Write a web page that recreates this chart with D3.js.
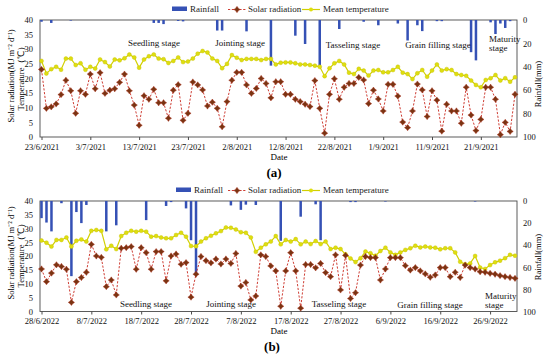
<!DOCTYPE html>
<html><head><meta charset="utf-8">
<script src="https://cdn.jsdelivr.net/npm/d3@7/dist/d3.min.js"></script>
<style>body{margin:0;background:#fff}svg{display:block}</style>
</head><body>
<svg id="c" width="550" height="357"></svg>
<script>
// ---------------- DATA ----------------
const startA = "23/6/2021";
const startB = "28/6/2022";

const solarA = [23.1,9.8,10.3,11.3,14.5,19.4,15.8,8.1,15.8,14.6,
  21.5,16.5,22,14.9,16,16.5,18.7,21.5,15.8,10.9,
  4,14.1,12.9,16.3,11.7,11.7,6.4,16,17.9,5.7,
  8.1,18.8,17.8,16.1,10.6,11.9,9.8,3.5,12.1,19.4,
  22.1,22.1,17.8,14.9,16.6,20,18.3,13.4,18.9,18.9,
  14.6,14.6,12.9,12.1,11.2,10.4,19.3,9.8,1.3,14.6,
  19.9,12.9,17,18.3,18.3,20.4,19.5,11.4,16,13,
  8.9,18,18,14,5.1,3.2,8.9,18.1,16.1,7,
  15.8,12.6,2,11.2,8.9,8.9,4.7,17,7.5,2.2,
  6,17,17,12.9,0.8,5,1.9,14.6];
const tempA = [26,21.7,23.2,24,23,26.8,26.8,24.6,25.2,23,
  24,23.4,26.5,25.6,24.1,26.5,26.2,26.9,28.2,27.2,
  23.7,26.5,27.6,28.2,26.8,26.6,25.3,26,27.2,25.6,
  25.8,26.8,28.5,29.4,28.9,26.8,26,23.5,25,28,
  27.1,26.3,26.7,26.7,26.7,26.3,26.7,26.7,24.8,25.4,
  25.5,25.5,25.2,24.8,24.8,24.6,24.4,24,20.8,23.5,
  25.2,26,24.8,22,21.5,23.3,22.7,21,22.7,22.9,
  22.1,22.1,22.9,24,22,21.5,19.8,21.8,22.9,20.6,
  22.7,24.8,22.7,23.2,22.9,21.5,21.2,20.9,19.3,17.8,
  17,19.5,20.1,21.2,19.3,20.1,18.9,20.4];
const rainA = [1.5,0,2.5,0,0,0,0.5,0,0,0,
  0,0,0,0,0,0,0,0,0,0,
  0,0,0,2.5,2.5,3.5,0,0,0.8,1.2,
  0,0,0,0,0,0,9,9,0,0,
  0,0,9.7,0,0,0,0,39,0,0,
  0,0,13.4,0,20.5,0,0,39,0,0,
  0,7.7,0,0,0,0,1.5,0,0,4.5,
  0,0,0,3,0,17.5,0,4.5,9.5,0,
  0,1,1,0,0,0,0,0,27.5,34.5,
  0,0,2,12,3,6.8,1,0];

const solarB = [15.4,10.8,13.9,16.9,16.3,15.3,3.3,10.8,12.3,14.2,
  24.3,20.1,19.6,9,11.4,6,22.9,23.1,23.5,15.3,
  23.1,21.3,15.3,21.7,21.7,11.1,20.1,20.8,17.1,17.7,
  5.2,13.5,19.9,18.4,17.6,19,17.2,19,17.4,21,
  9.2,10.5,4.2,5.6,20.5,19.9,16.5,14.7,1.9,14.7,
  21.3,14.7,1.2,17,17,15.8,17.4,14.1,12.6,20.5,
  7.8,20.3,4.7,6.8,16.8,19.9,19.5,19.5,11.4,15.4,
  19.5,19.5,19.5,16.6,15,15.9,14.7,13.6,12.4,13.2,
  15.9,15.9,12.6,14.2,12.3,16.8,15.9,15.4,14.4,14.2,
  13.8,13.5,13,12.6,12.3,12];
const tempB = [25.7,24.9,23.5,25.9,25.9,26.8,23.5,25.6,26.1,25.3,
  29.2,29.5,29.2,22.5,23.8,22.6,27.3,28.5,29.2,28.9,
  29.2,28.9,27.1,27.3,26.8,26.5,26.5,27.7,28.5,27.1,
  23.7,23.6,25.3,26.5,27.4,28.3,29.1,30.4,30.3,29.7,
  28.7,28.5,26.8,21.6,23.1,24.3,25.3,27.3,24.3,25.9,
  25.3,26.2,24.3,25.3,24.4,25.5,24.4,25.3,22.6,23.1,
  22.6,20.7,19.2,17.9,19.3,21.7,21.1,20.2,21.9,23.1,
  21.4,20.5,21.4,22.3,22.9,23.8,23.2,23.5,23.2,23.1,
  22.5,22.9,22.9,21.4,18,17.1,17.4,20.1,15.9,15.4,
  16.8,17.8,18.4,19.3,20.5,20.2];
const rainB = [15.5,19.5,27.5,0,2,0,68,10,20,3.6,
  0,0,0,27.5,0,22,0,0,0,0,
  0,17.3,0,0,0,4.5,1,0,0,6.7,
  35.5,66,0,0,0,0,0,0,4,0,
  8,3.3,0,3.6,0,0,0,0,36,0,
  0,0,14.2,0,0,3,35.5,0,0,0,
  0,0,1,1,0,0,0,0,0,0.5,
  0,0,0,0,0,0,0,0,0,0,
  0,0,0,0,0,0,0,0.5,0,0,
  0,0,0,0,0,0];

const tickLabelsA = ["23/6/2021","3/7/2021","13/7/2021","23/7/2021","2/8/2021","12/8/2021","22/8/2021","1/9/2021","11/9/2021","21/9/2021"];
const tickLabelsB = ["28/6/2022","8/7/2022","18/7/2022","28/7/2022","7/8/2022","17/8/2022","27/8/2022","6/9/2022","16/9/2022","26/9/2022"];
const leftTicks = [0,5,10,15,20,25,30,35,40];
const rightTicks = [0,20,40,60,80,100];
const stageNames = ["Seedling stage","Jointing stage","Tasseling stage","Grain filling stage","Maturity","stage"];
const legendLabels = ["Rainfall","Solar radiation","Mean temperature"];
const leftTitle1 = "Solar radiation(MJ m\u207B\u00B2 d\u207B\u00B9)";
const leftTitle2 = "Temperature\uFF08\u2103\uFF09";
const rightTitle = "Rainfall(mm)";
const xTitle = "Date";

// ---------------- DRAW ----------------
const FONT = "'Liberation Serif','Times New Roman',serif";
const C_RAIN = "#3551b5", C_SOLAR_LINE = "#c8281e", C_SOLAR_MK = "#7a3412",
      C_TEMP = "#d2d000", C_TEMP_MK = "#dede10", C_FRAME = "#4a4a4a";
const svg = d3.select("#c");
const parse = d3.timeParse("%d/%m/%Y");

const star4 = { draw(ctx, size) {
  const r = Math.sqrt(size) / 1.3, q = r * 0.42;
  ctx.moveTo(0,-r); ctx.lineTo(q,-q); ctx.lineTo(r,0); ctx.lineTo(q,q);
  ctx.lineTo(0,r); ctx.lineTo(-q,q); ctx.lineTo(-r,0); ctx.lineTo(-q,-q); ctx.closePath();
}};
const MK = 17;

function panel(cfg) {
  const L = 40, R = 517, top = cfg.top, bottom = cfg.bottom;
  const s = parse(cfg.start);
  const dates = cfg.solar.map((_, i) => d3.timeDay.offset(s, i));
  const x = d3.scaleTime().domain([dates[0], dates[dates.length - 1]]).range([41.5, 515]);
  const y = d3.scaleLinear().domain([0, 40]).range([bottom, top]);
  const yr = d3.scaleLinear().domain([0, 100]).range([top, bottom]);
  const g = svg.append("g").attr("font-family", FONT);

  g.append("rect").attr("x", L).attr("y", top).attr("width", R - L).attr("height", bottom - top)
    .attr("fill", "none").attr("stroke", C_FRAME).attr("stroke-width", 0.9);

  g.append("g").selectAll("rect")
    .data(cfg.rain.map((v, i) => ({ d: dates[i], v })).filter(d => d.v > 0))
    .join("rect")
    .attr("x", d => x(d.d) - 1.25).attr("width", 2.5)
    .attr("y", yr(0)).attr("height", d => yr(d.v) - yr(0))
    .attr("fill", C_RAIN);

  const tData = cfg.temp.map((v, i) => ({ d: dates[i], v }));
  g.append("path").datum(tData)
    .attr("d", d3.line().x(d => x(d.d)).y(d => y(d.v)))
    .attr("fill", "none").attr("stroke", C_TEMP).attr("stroke-width", 1.2);
  g.append("g").selectAll("circle").data(tData).join("circle")
    .attr("cx", d => x(d.d)).attr("cy", d => y(d.v)).attr("r", 2)
    .attr("fill", C_TEMP_MK).attr("stroke", "#c8c000").attr("stroke-width", 0.4);

  const sData = cfg.solar.map((v, i) => ({ d: dates[i], v }));
  g.append("path").datum(sData)
    .attr("d", d3.line().x(d => x(d.d)).y(d => y(d.v)))
    .attr("fill", "none").attr("stroke", C_SOLAR_LINE).attr("stroke-width", 0.9)
    .attr("stroke-dasharray", "2.2,1.6");
  g.append("g").selectAll("path").data(sData).join("path")
    .attr("transform", d => `translate(${x(d.d)},${y(d.v)})`)
    .attr("d", d3.symbol(star4, MK))
    .attr("fill", C_SOLAR_MK).attr("stroke", "#b02a1a").attr("stroke-width", 0.4);

  const tickDates = cfg.ticks.map(parse);
  const ax = g.append("g").attr("transform", `translate(0,${bottom})`)
    .call(d3.axisBottom(x).tickValues(tickDates).tickFormat((d, i) => cfg.ticks[i]).tickSize(3).tickPadding(3.5));
  const ay = g.append("g").attr("transform", `translate(${L},0)`)
    .call(d3.axisLeft(y).tickValues(leftTicks).tickSize(0).tickPadding(7));
  const ayr = g.append("g").attr("transform", `translate(${R},0)`)
    .call(d3.axisRight(yr).tickValues(rightTicks).tickSize(0).tickPadding(6));
  [ax, ay, ayr].forEach(a => {
    a.select(".domain").remove();
    a.selectAll("line").attr("stroke", C_FRAME);
    a.selectAll("text").attr("font-family", FONT).attr("font-size", 8.5).attr("fill", "#111");
  });

  const st = g.append("g").attr("font-size", 9).attr("fill", "#111");
  cfg.stages.forEach((p, i) => {
    st.append("text").attr("x", p[0]).attr("y", p[1]).attr("text-anchor", p[2] || "middle").text(stageNames[i]);
  });

  g.append("text").attr("x", 279).attr("y", bottom + 22.5).attr("text-anchor", "middle")
    .attr("font-size", 9).text(xTitle);
  g.append("text").attr("x", cfg.lab[0]).attr("y", bottom + cfg.lab[1]).attr("text-anchor", "middle")
    .attr("font-size", 13).attr("font-weight", "bold").text(cfg.label);
  const cy = cfg.titleY;
  g.append("text").attr("transform", `translate(13.5,${cy}) rotate(-90)`).attr("text-anchor", "middle")
    .attr("font-size", 8.5).text(leftTitle1);
  g.append("text").attr("transform", `translate(24,${cy}) rotate(-90)`).attr("text-anchor", "middle")
    .attr("font-size", 8.5).text(leftTitle2);
  g.append("text").attr("transform", `translate(541,${cfg.rightY}) rotate(-90)`).attr("text-anchor", "middle")
    .attr("font-size", 8.5).text(rightTitle);

  const ly = cfg.legendY, lg = g.append("g").attr("font-size", 9).attr("fill", "#222");
  lg.append("rect").attr("x", cfg.legX).attr("y", ly - 3).attr("width", 15).attr("height", 4.5).attr("fill", C_RAIN);
  lg.append("text").attr("x", cfg.legX + 18).attr("y", ly + 2.5).text(legendLabels[0]);
  lg.append("line").attr("x1", 228).attr("x2", 246).attr("y1", ly).attr("y2", ly)
    .attr("stroke", C_SOLAR_LINE).attr("stroke-width", 0.9).attr("stroke-dasharray", "2.2,1.6");
  lg.append("path").attr("transform", `translate(237,${ly})`).attr("d", d3.symbol(star4, MK))
    .attr("fill", C_SOLAR_MK).attr("stroke", "#b02a1a").attr("stroke-width", 0.4);
  lg.append("text").attr("x", 248).attr("y", ly + 2.5).text(legendLabels[1]);
  lg.append("line").attr("x1", 302).attr("x2", 320).attr("y1", ly).attr("y2", ly)
    .attr("stroke", C_TEMP).attr("stroke-width", 1.2);
  lg.append("circle").attr("cx", 311).attr("cy", ly).attr("r", 2).attr("fill", C_TEMP_MK);
  lg.append("text").attr("x", 323).attr("y", ly + 2.5).text(legendLabels[2]);
}

panel({
  start: startA, solar: solarA, temp: tempA, rain: rainA, ticks: tickLabelsA,
  top: 20, bottom: 137, label: "(a)", lab: [274, 40], titleY: 76, rightY: 84,
  legendY: 9.5, legX: 172,
  stages: [[154, 46], [240, 46], [353, 47.5], [438, 48], [489, 42, "start"], [489, 51, "start"]]
});
panel({
  start: startB, solar: solarB, temp: tempB, rain: rainB, ticks: tickLabelsB,
  top: 201, bottom: 311.5, label: "(b)", lab: [272, 39.5], titleY: 253, rightY: 257,
  legendY: 190.5, legX: 176,
  stages: [[146, 306.5], [231, 306.5], [339, 306.5], [430, 308], [485, 299, "start"], [485, 308, "start"]]
});
</script>
</body></html>
